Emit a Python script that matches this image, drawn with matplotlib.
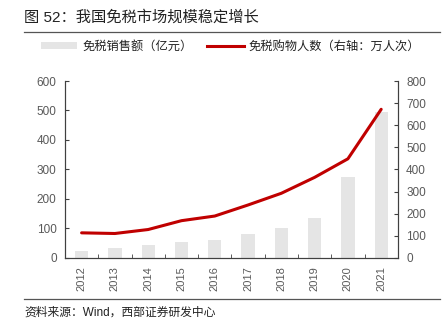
import matplotlib
matplotlib.use('Agg')
import matplotlib.pyplot as plt
from matplotlib.patches import Patch
from matplotlib.lines import Line2D

plt.rcParams['font.family'] = ['Liberation Sans', 'Noto Sans CJK SC', 'DejaVu Sans']
plt.rcParams['axes.unicode_minus'] = False

# 数据
years = ['2012', '2013', '2014', '2015', '2016', '2017', '2018', '2019', '2020', '2021']
sales = [23, 33, 43, 53, 61, 80, 101, 135, 275, 496]          # 免税销售额（亿元）
shoppers = [113, 110, 128, 168, 189, 239, 292, 364, 448, 672]  # 免税购物人数（万人次）

bar_color = '#E5E5E5'
line_color = '#C00000'
tick_color = '#595959'

fig = plt.figure(figsize=(4.48, 3.28), dpi=100)
ax = fig.add_axes([0.145, 0.214, 0.743, 0.539])
ax2 = ax.twinx()

x = list(range(len(years)))
ax.bar(x, sales, width=0.4, color=bar_color, zorder=1)
ax2.plot(x, shoppers, color=line_color, linewidth=2.2, solid_capstyle='round')

ax.set_xlim(-0.5, len(years) - 0.5)
ax.set_ylim(0, 600)
ax2.set_ylim(0, 800)
ax.set_yticks(range(0, 601, 100))
ax2.set_yticks(range(0, 801, 100))

ax.set_xticks(x)
ax.set_xticklabels(years, rotation=90)
ax.set_xticks([i + 0.5 for i in x[:-1]], minor=True)
ax.tick_params(axis='x', which='major', length=0, pad=6, labelsize=8, labelcolor=tick_color)
ax.tick_params(axis='x', which='minor', direction='in', length=3, color='#404040')
ax.tick_params(axis='y', direction='in', length=3, labelsize=8.5, labelcolor=tick_color, color='#404040', pad=6)
ax2.tick_params(axis='y', direction='in', length=3, labelsize=8.5, labelcolor=tick_color, color='#404040', pad=6)

for a in (ax, ax2):
    a.spines['top'].set_visible(False)
    for s in ('left', 'right', 'bottom'):
        a.spines[s].set_color('#404040')
        a.spines[s].set_linewidth(0.8)

# 标题和分隔线
fig.text(24 / 448, 1 - 17 / 328, '图 52：我国免税市场规模稳定增长', fontsize=11,
         color='#222222', va='center', ha='left')
fig.add_artist(Line2D([24 / 448, 440 / 448], [1 - 32 / 328] * 2, color='#555555', linewidth=0.9))
fig.add_artist(Line2D([24 / 448, 440 / 448], [1 - 299 / 328] * 2, color='#555555', linewidth=0.9))
fig.text(24 / 448, 1 - 313 / 328, '资料来源：Wind，西部证券研发中心', fontsize=8.5,
         color='#222222', va='center', ha='left')

# 图例
handles = [Patch(facecolor=bar_color, edgecolor='none'),
           Line2D([0], [0], color=line_color, linewidth=2.2)]
labels = ['免税销售额（亿元）', '免税购物人数（右轴：万人次）']
fig.legend(handles, labels, loc='center', bbox_to_anchor=(0.514, 1 - 47 / 328), ncol=2,
           frameon=False, fontsize=8.8, handlelength=3.0, handleheight=0.5,
           columnspacing=1.2, handletextpad=0.4, labelcolor='#222222')

plt.savefig('out.png', dpi=100)
plt.close()
